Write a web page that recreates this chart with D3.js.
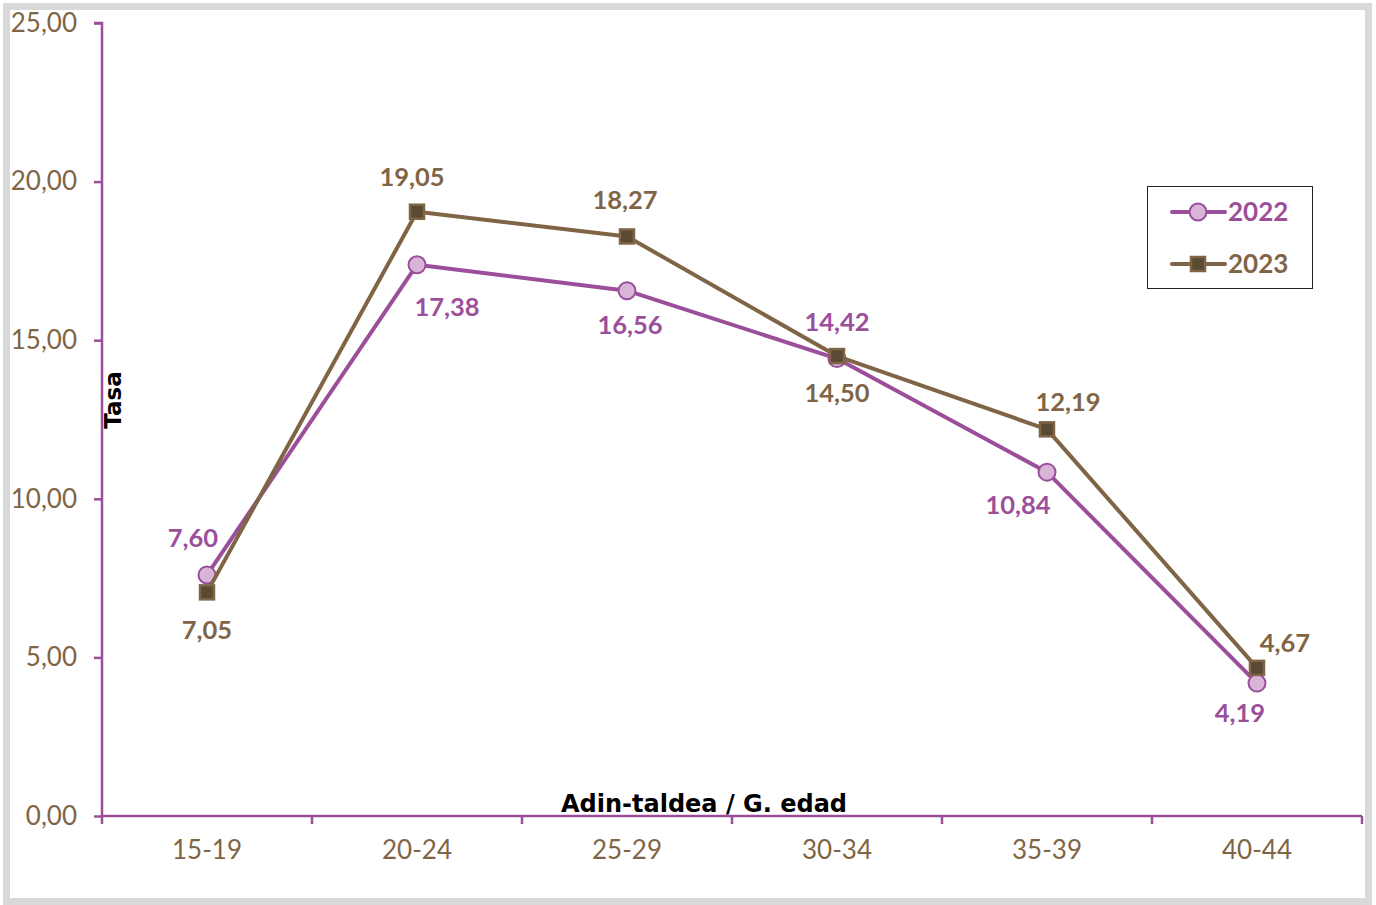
<!DOCTYPE html>
<html><head><meta charset="utf-8">
<script src="https://cdn.jsdelivr.net/npm/d3@7"></script>
<style>
html,body{margin:0;padding:0;background:#fff;}
svg{display:block;font-family:Lato, "Open Sans", sans-serif;}
</style></head>
<body>
<svg id="chart" width="1376" height="905"></svg>
<script>
const categories = ["15-19","20-24","25-29","30-34","35-39","40-44"];
const values2022 = [7.60, 17.38, 16.56, 14.42, 10.84, 4.19];
const values2023 = [7.05, 19.05, 18.27, 14.50, 12.19, 4.67];
const seriesNames = ["2022","2023"];
const yTicks = [0,5,10,15,20,25];
// label offsets (layout only)
const off2022 = [[-14,-37],[30,42],[3,34],[0,-37],[-29,33],[-17,30]];
const off2023 = [[0,37],[-5,-35],[-2,-37],[0,37],[21,-28],[28,-25]];

const PURPLE = "#9b4f9a", LAV = "#d8b4d6", BROWN = "#7f6545", DARK = "#5a4a33", TICK = "#7f6545";
const fmt = v => d3.format(".2f")(v).replace(".", ",");

const svg = d3.select("#chart");
svg.append("rect").attr("x",6.5).attr("y",6.5).attr("width",1362).attr("height",895)
  .attr("fill","#fff").attr("stroke","#d9d9d9").attr("stroke-width",7);

const x = d3.scaleBand().domain(categories).range([102,1362]).padding(0);
const y = d3.scaleLinear().domain([0,25]).range([816,23]);
const cx = c => x(c) + x.bandwidth()/2;

// Y axis
const gy = svg.append("g").attr("transform","translate(102,0)")
  .call(d3.axisLeft(y).tickValues(yTicks).tickFormat(fmt).tickSize(8).tickPadding(17));
gy.select(".domain").attr("stroke",PURPLE).attr("stroke-width",2.5).attr("d","M-8,23H0V816");
gy.selectAll(".tick line").attr("stroke",PURPLE).attr("stroke-width",2.5);
gy.selectAll(".tick text").attr("fill",TICK).attr("font-size",26).attr("font-family","Lato");

// X axis
const gx = svg.append("g").attr("transform","translate(0,816)")
  .call(d3.axisBottom(x).tickSize(0).tickPadding(25));
gx.select(".domain").attr("stroke",PURPLE).attr("stroke-width",2.5).attr("d","M102,0H1362");
gx.selectAll(".tick text").attr("fill",TICK).attr("font-size",26).attr("font-family","Lato");
const bounds = categories.map(c => x(c)).concat([x.range()[1]]);
gx.selectAll(".bt").data(bounds).enter().append("line").attr("class","bt")
  .attr("x1",d=>d).attr("x2",d=>d).attr("y1",0).attr("y2",8)
  .attr("stroke",PURPLE).attr("stroke-width",2.5);

// Titles
svg.append("text").attr("transform","translate(113,400) rotate(-90)")
  .attr("text-anchor","middle").attr("dy","0.36em").attr("font-weight","bold")
  .attr("font-family","DejaVu Sans").attr("font-size",23).attr("fill","#000").text("Tasa");
svg.append("text").attr("x",704).attr("y",803).attr("dy","0.36em")
  .attr("text-anchor","middle").attr("font-weight","bold")
  .attr("font-family","DejaVu Sans").attr("font-size",24).attr("fill","#000").text("Adin-taldea / G. edad");

const line = d3.line().x((d,i)=>cx(categories[i])).y(d=>y(d));

function drawSeries(vals, color, fill, shape, offs){
  svg.append("path").datum(vals).attr("d",line).attr("fill","none")
    .attr("stroke",color).attr("stroke-width",4).attr("stroke-linejoin","round");
  if(shape==="circle"){
    svg.selectAll(null).data(vals).enter().append("circle")
      .attr("cx",(d,i)=>cx(categories[i])).attr("cy",d=>y(d)).attr("r",8.5)
      .attr("fill",fill).attr("stroke",color).attr("stroke-width",2);
  } else {
    svg.selectAll(null).data(vals).enter().append("rect")
      .attr("x",(d,i)=>cx(categories[i])-7).attr("y",d=>y(d)-7).attr("width",14).attr("height",14)
      .attr("fill",fill).attr("stroke",color).attr("stroke-width",2.5);
  }
  svg.selectAll(null).data(vals).enter().append("text")
    .attr("x",(d,i)=>cx(categories[i])+offs[i][0]).attr("y",(d,i)=>y(d)+offs[i][1])
    .attr("dy","0.36em").attr("text-anchor","middle").attr("font-weight","bold")
    .attr("font-size",25.5).attr("fill",color).text(d=>fmt(d));
}
drawSeries(values2022, PURPLE, LAV, "circle", off2022);
drawSeries(values2023, BROWN, DARK, "square", off2023);

// Legend
const lg = svg.append("g");
lg.append("rect").attr("x",1147.5).attr("y",186.5).attr("width",165).attr("height",102)
  .attr("fill","#fff").attr("stroke","#222").attr("stroke-width",1);
const legendRows = [{name:seriesNames[0],color:PURPLE,fill:LAV,shape:"circle",yy:212},
                    {name:seriesNames[1],color:BROWN,fill:DARK,shape:"square",yy:264}];
legendRows.forEach(r=>{
  lg.append("line").attr("x1",1172).attr("x2",1225).attr("y1",r.yy).attr("y2",r.yy)
    .attr("stroke",r.color).attr("stroke-width",4).attr("stroke-linecap","round");
  if(r.shape==="circle"){
    lg.append("circle").attr("cx",1198).attr("cy",r.yy).attr("r",8.5)
      .attr("fill",r.fill).attr("stroke",r.color).attr("stroke-width",2);
  } else {
    lg.append("rect").attr("x",1191).attr("y",r.yy-7).attr("width",14).attr("height",14)
      .attr("fill",r.fill).attr("stroke",r.color).attr("stroke-width",2.5);
  }
  lg.append("text").attr("x",1228).attr("y",r.yy).attr("dy","0.36em")
    .attr("font-weight","bold").attr("font-size",26).attr("fill",r.color).text(r.name);
});
</script>
</body></html>
